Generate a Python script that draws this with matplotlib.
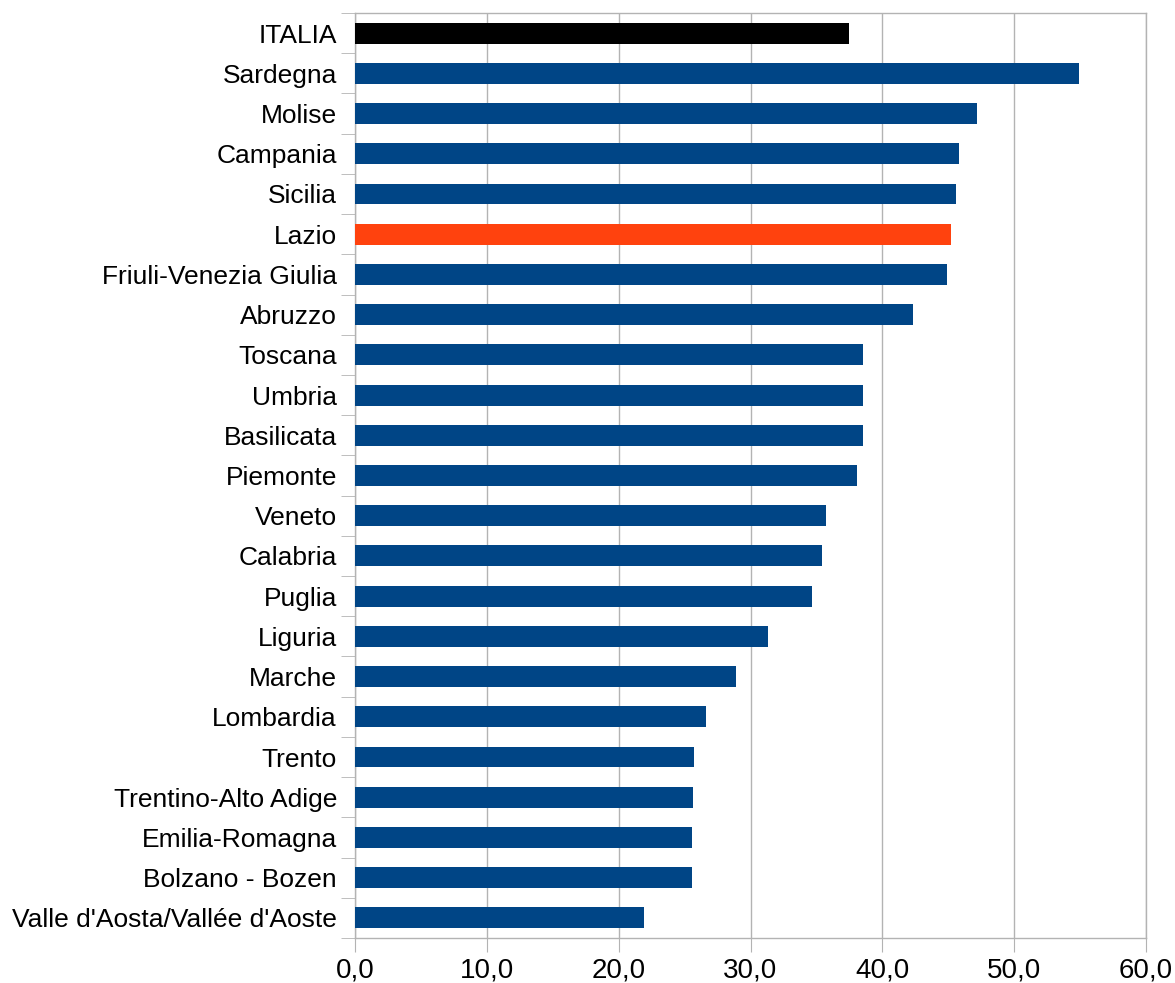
import numpy as np
import matplotlib.pyplot as plt
from matplotlib.ticker import FixedLocator

plt.rcParams['font.family'] = ['Liberation Sans', 'DejaVu Sans']

regions = ['ITALIA', 'Sardegna', 'Molise', 'Campania', 'Sicilia', 'Lazio',
           'Friuli-Venezia Giulia', 'Abruzzo', 'Toscana', 'Umbria', 'Basilicata',
           'Piemonte', 'Veneto', 'Calabria', 'Puglia', 'Liguria', 'Marche',
           'Lombardia', 'Trento', 'Trentino-Alto Adige', 'Emilia-Romagna',
           'Bolzano - Bozen', "Valle d'Aosta/Vallée d'Aoste"]
values = [37.5, 54.9, 47.2, 45.8, 45.6, 45.2, 44.9, 42.3, 38.5, 38.5, 38.5,
          38.1, 35.7, 35.4, 34.7, 31.3, 28.9, 26.6, 25.7, 25.65, 25.6, 25.6, 21.9]
xticks = [0, 10, 20, 30, 40, 50, 60]

colors = []
for r in regions:
    if r == 'ITALIA':
        colors.append('#000000')
    elif r == 'Lazio':
        colors.append('#ff420e')
    else:
        colors.append('#004586')

fig = plt.figure(figsize=(11.75, 9.83), dpi=100)
ax = fig.add_axes([355 / 1175, 1 - 938 / 983, (1146 - 355) / 1175, (938 - 13) / 983])

y = np.arange(len(regions))
ax.barh(y, values, height=0.52, color=colors, zorder=3)
ax.set_ylim(len(regions) - 0.5, -0.5)
ax.set_xlim(0, 60)

grid_c = '#b3b3b3'
ax.set_xticks(xticks)
ax.set_xticklabels([f'{v:.1f}'.replace('.', ',') for v in xticks], fontsize=20)
ax.xaxis.grid(True, color=grid_c, linewidth=1, zorder=0)
ax.tick_params(axis='x', length=10, color=grid_c, pad=4, labelcolor='black')

ax.set_yticks(y)
ax.set_yticklabels(regions, fontsize=19)
ax.yaxis.set_minor_locator(FixedLocator(np.arange(-0.5, len(regions), 1)))
ax.tick_params(axis='y', which='major', length=0, pad=13)
ax.tick_params(axis='y', which='minor', length=10, color=grid_c)

for s in ax.spines.values():
    s.set_color(grid_c)
    s.set_linewidth(1)

fig.savefig('out.png', dpi=100)
